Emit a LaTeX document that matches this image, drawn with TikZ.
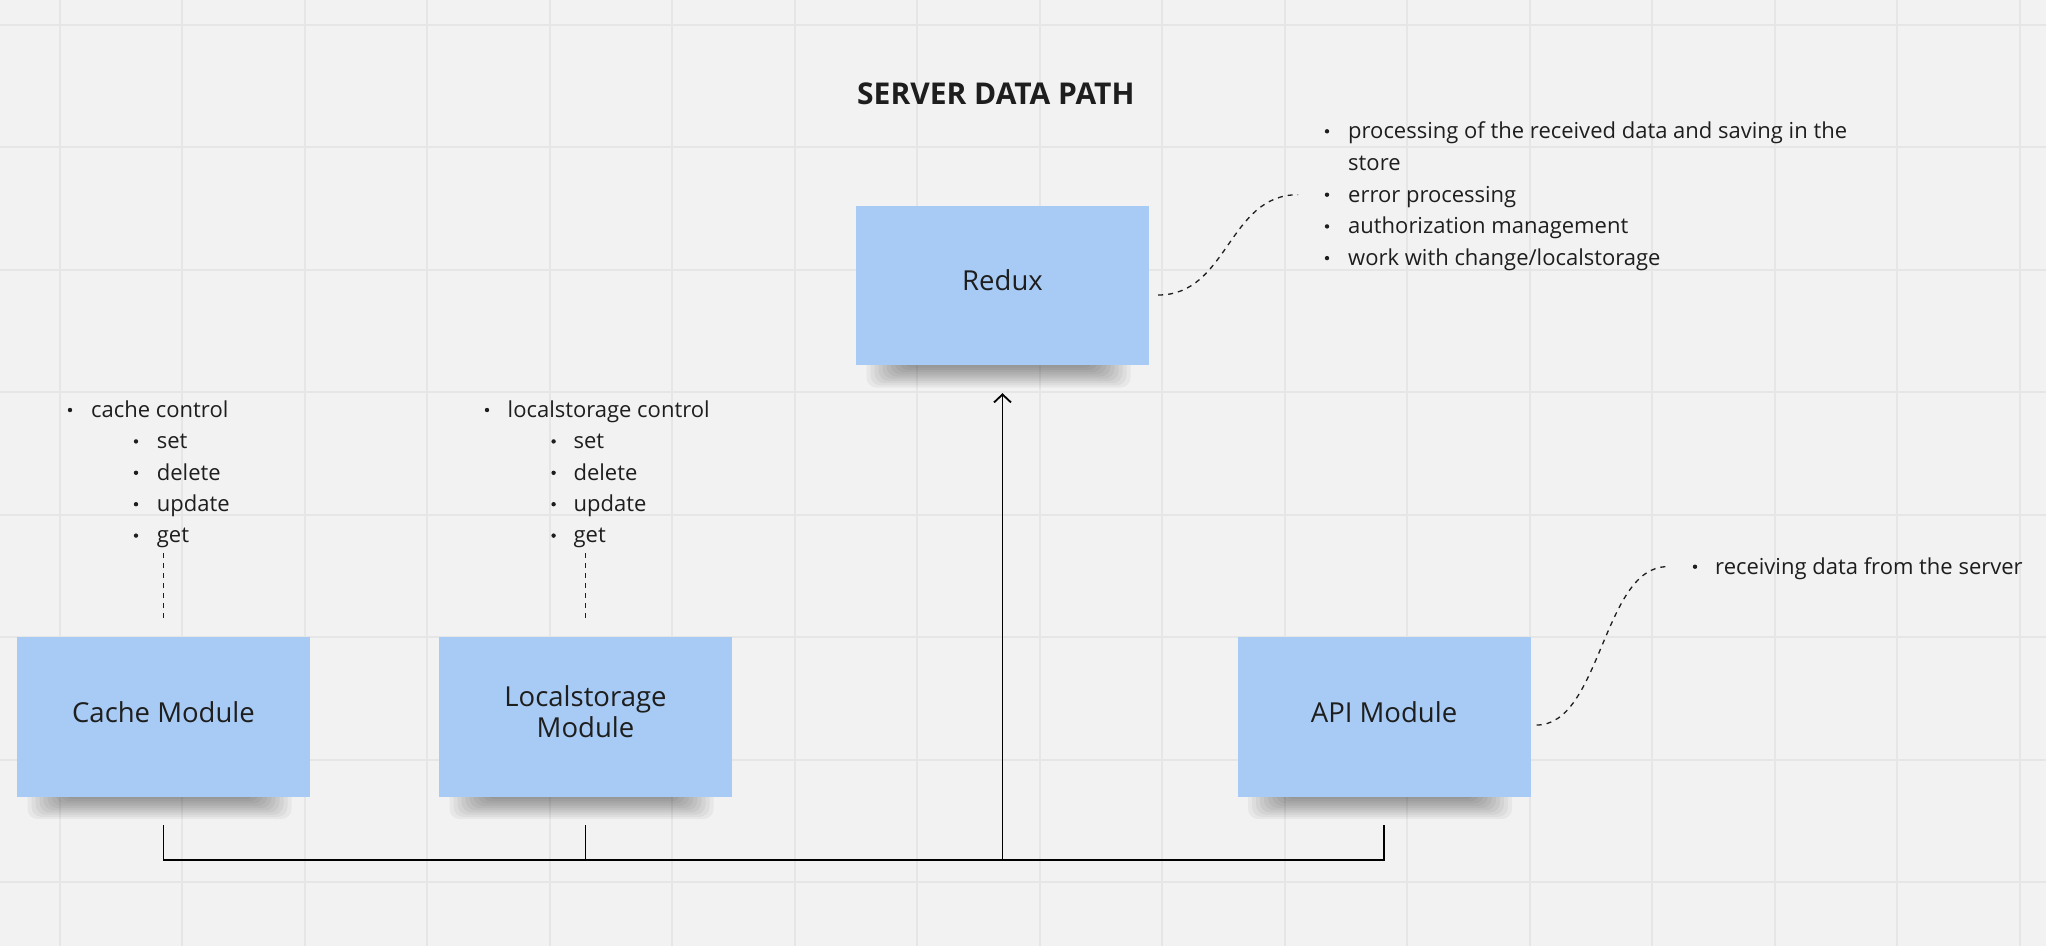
\documentclass[tikz,border=0pt]{standalone}
\usepackage{fontspec}
\setmainfont{Open Sans}
\usetikzlibrary{arrows.meta}

\definecolor{fondo}{HTML}{F2F2F2}
\definecolor{rejilla}{HTML}{E6E6E6}
\definecolor{nota}{HTML}{A7CBF4}
\definecolor{tinta}{HTML}{1E1E1E}

\tikzset{
    modulo/.style={fill=nota, minimum width=293pt, minimum height=160pt, inner sep=0pt,
        align=center, text=tinta, font=\fontsize{27.5}{31}\selectfont},
    elemento/.style={anchor=base west, inner sep=0pt, text=tinta, font=\fontsize{22}{31}\selectfont},
    punto/.style={circle, fill=tinta, inner sep=0pt, minimum size=4.4pt},
    punteado/.style={draw=tinta, line width=1.3pt, dash pattern=on 5pt off 5pt},
    conector/.style={draw=black, line width=1.8pt}
}

\begin{document}
\begin{tikzpicture}[x=1pt, y=-1pt, >={Straight Barb[length=8pt,width=17pt]}]
    % Fondo y rejilla
    \fill[fondo] (0,0) rectangle (2046,946);
    \useasboundingbox (0,0) rectangle (2046,946);
    \foreach \i in {0,...,16}
        \draw[rejilla, line width=2pt] ({59.6+122.5*\i},0) -- ++(0,946);
    \foreach \j in {0,...,7}
        \draw[rejilla, line width=2pt] (0,{24.8+122.5*\j}) -- ++(2046,0);

    % Sombras de las notas
    \foreach \cx/\cy in {163.5/717, 585.5/717, 1384/717, 1002.5/285.5}
        \foreach \k in {0,...,9}
            \fill[black, opacity=0.045, rounded corners=10pt]
                ({\cx-136+4*\k},{\cy+70}) rectangle ({\cx+128-4*\k},{\cy+102-2.2*\k});

    % Notas
    \node[modulo] (cache) at (163.5,717) {Cache Module\\[-21pt]};
    \node[modulo] (local) at (585.5,717) {Localstorage\\Module\\[-21pt]};
    \node[modulo] (api) at (1384,717) {API Module\\[-21pt]};
    \node[modulo, minimum height=159pt] (redux) at (1002.5,285.5) {Redux\\[-21pt]};

    % Titulo
    \node[anchor=base west, inner sep=0pt, text=tinta, font=\fontsize{30}{34}\selectfont\bfseries]
        (titulo) at (857,104) {SERVER DATA PATH};

    % Lista de la cache
    \node[punto] (cachep0) at (70,410) {};
    \node[elemento] (cachet0) at (91,417.3) {cache control};
    \foreach \t [count=\i] in {set, delete, update, get} {
        \node[punto] (cachep\i) at (136,{410+31.4*\i}) {};
        \node[elemento] (cachet\i) at (156.7,{417.3+31.4*\i}) {\t};
    }

    % Lista del localstorage
    \node[punto] (localp0) at (487,410) {};
    \node[elemento] (localt0) at (507.5,417.3) {localstorage control};
    \foreach \t [count=\i] in {set, delete, update, get} {
        \node[punto] (localp\i) at (553.6,{410+31.4*\i}) {};
        \node[elemento] (localt\i) at (573.4,{417.3+31.4*\i}) {\t};
    }

    % Lista de Redux
    \node[punto] (reduxp1) at (1327,131.3) {};
    \node[elemento] (reduxt1) at (1348,138.6) {processing of the received data and saving in the};
    \node[elemento] (reduxt2) at (1348,170.3) {store};
    \foreach \t [count=\i from 3] in {error processing, authorization management, {work with change/localstorage}} {
        \node[punto] (reduxp\i) at (1327,{131.3+31.7*(\i-1)}) {};
        \node[elemento] (reduxt\i) at (1348,{138.6+31.7*(\i-1)}) {\t};
    }

    % Lista de la API
    \node[punto] (apip) at (1695,566.7) {};
    \node[elemento] (apit) at (1715,574) {receiving data from the server};

    % Conectores
    \coordinate (bus) at (0,860);
    \draw[conector] ([yshift=-28pt]cache.south) |- (api.south |- bus) -- ([yshift=-28pt]api.south);
    \draw[conector] ([yshift=-28pt]local.south) -- (local.south |- bus);
    \draw[conector, ->] (redux.south |- bus) -- ([yshift=-28pt]redux.south);

    % Lineas punteadas
    \draw[punteado, shorten <=5pt] (cache.north |- cachet4.south) -- ([yshift=14pt]cache.north);
    \draw[punteado, shorten <=5pt] (local.north |- localt4.south) -- ([yshift=14pt]local.north);
    \draw[punteado] ([xshift=9pt,yshift=-9.5pt]redux.east)
        .. controls +(70,0) and +(-70,0) .. ([xshift=-29pt]reduxp3.center);
    \draw[punteado] ([xshift=6pt,yshift=-8pt]api.east)
        .. controls +(64,0) and +(-64,0) .. ([xshift=-28pt]apip.center);
\end{tikzpicture}
\end{document}
